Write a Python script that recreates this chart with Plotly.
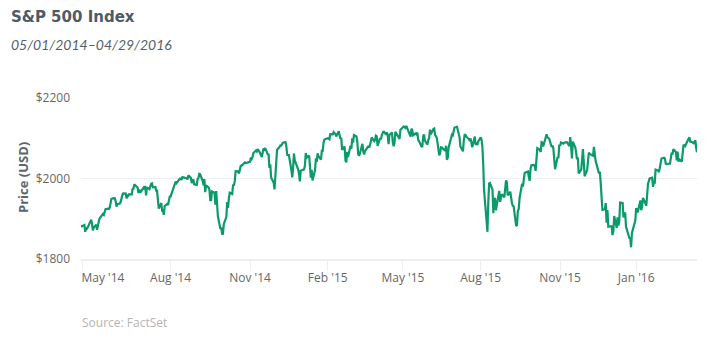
import plotly.graph_objects as go

# ---- data ----
dates_2014 = [
 "2014-05-01","2014-05-02","2014-05-05","2014-05-06","2014-05-07","2014-05-08","2014-05-09","2014-05-12","2014-05-13","2014-05-14",
 "2014-05-15","2014-05-16","2014-05-19","2014-05-20","2014-05-21","2014-05-22","2014-05-23","2014-05-27","2014-05-28","2014-05-29","2014-05-30",
 "2014-06-02","2014-06-03","2014-06-04","2014-06-05","2014-06-06","2014-06-09","2014-06-10","2014-06-11","2014-06-12","2014-06-13",
 "2014-06-16","2014-06-17","2014-06-18","2014-06-19","2014-06-20","2014-06-23","2014-06-24","2014-06-25","2014-06-26","2014-06-27","2014-06-30",
 "2014-07-01","2014-07-02","2014-07-03","2014-07-07","2014-07-08","2014-07-09","2014-07-10","2014-07-11","2014-07-14","2014-07-15",
 "2014-07-16","2014-07-17","2014-07-18","2014-07-21","2014-07-22","2014-07-23","2014-07-24","2014-07-25","2014-07-28","2014-07-29","2014-07-30","2014-07-31",
 "2014-08-01","2014-08-04","2014-08-05","2014-08-06","2014-08-07","2014-08-08","2014-08-11","2014-08-12","2014-08-13","2014-08-14","2014-08-15",
 "2014-08-18","2014-08-19","2014-08-20","2014-08-21","2014-08-22","2014-08-25","2014-08-26","2014-08-27","2014-08-28","2014-08-29",
 "2014-09-02","2014-09-03","2014-09-04","2014-09-05","2014-09-08","2014-09-09","2014-09-10","2014-09-11","2014-09-12","2014-09-15",
 "2014-09-16","2014-09-17","2014-09-18","2014-09-19","2014-09-22","2014-09-23","2014-09-24","2014-09-25","2014-09-26","2014-09-29","2014-09-30",
 "2014-10-01","2014-10-02","2014-10-03","2014-10-06","2014-10-07","2014-10-08","2014-10-09","2014-10-10","2014-10-13","2014-10-14","2014-10-15",
 "2014-10-16","2014-10-17","2014-10-20","2014-10-21","2014-10-22","2014-10-23","2014-10-24","2014-10-27","2014-10-28","2014-10-29","2014-10-30","2014-10-31",
 "2014-11-03","2014-11-04","2014-11-05","2014-11-06","2014-11-07","2014-11-10","2014-11-11","2014-11-12","2014-11-13","2014-11-14","2014-11-17",
 "2014-11-18","2014-11-19","2014-11-20","2014-11-21","2014-11-24","2014-11-25","2014-11-26","2014-11-28",
 "2014-12-01","2014-12-02","2014-12-03","2014-12-04","2014-12-05","2014-12-08","2014-12-09","2014-12-10","2014-12-11","2014-12-12","2014-12-15",
 "2014-12-16","2014-12-17","2014-12-18","2014-12-19","2014-12-22","2014-12-23","2014-12-24","2014-12-26","2014-12-29","2014-12-30","2014-12-31",
]
values_2014 = [
 1883.7,1881.1,1884.7,1867.7,1878.2,1875.6,1878.5,1896.7,1897.5,1888.5,
 1870.9,1877.9,1885.1,1872.8,1888.0,1892.5,1900.5,1911.9,1909.8,1920.0,1923.6,
 1925.0,1924.2,1927.9,1940.5,1949.4,1951.3,1950.8,1943.9,1930.1,1936.2,
 1937.8,1942.0,1957.0,1959.5,1962.9,1962.6,1950.0,1959.5,1957.2,1961.0,1960.2,
 1973.3,1974.6,1985.4,1977.7,1963.7,1972.8,1964.7,1967.6,1977.1,1973.3,
 1981.6,1958.1,1978.2,1973.6,1983.5,1987.0,1988.0,1978.3,1978.9,1970.0,1970.1,1930.7,
 1925.2,1939.0,1920.2,1920.2,1909.6,1931.6,1936.9,1933.8,1946.7,1955.2,1955.1,
 1971.7,1981.6,1986.5,1992.4,1988.4,1997.9,2000.0,2000.1,1996.7,2003.4,
 2002.3,2000.7,1997.7,2007.7,2001.5,1988.4,1995.7,1997.5,1985.5,1984.1,
 1999.0,2001.6,2011.4,2010.4,1994.3,1982.8,1998.3,1966.0,1982.9,1977.8,1972.3,
 1946.2,1946.2,1967.9,1964.8,1935.1,1968.9,1928.2,1906.1,1874.7,1877.7,1862.5,
 1862.8,1886.8,1904.0,1941.3,1927.1,1950.8,1964.6,1961.6,1985.1,1982.3,1994.7,2018.1,
 2017.8,2012.1,2023.6,2031.2,2031.9,2038.3,2039.7,2038.3,2039.3,2039.8,2041.3,
 2051.8,2048.7,2052.8,2063.5,2069.4,2067.0,2072.8,2067.6,
 2053.4,2066.6,2074.3,2071.9,2075.4,2060.3,2059.8,2026.1,2035.3,2002.3,1989.6,
 1972.7,2012.9,2061.2,2070.7,2078.5,2082.2,2081.9,2088.8,2090.6,2080.4,2058.9,
]
dates_2015 = [
 "2015-01-02","2015-01-05","2015-01-06","2015-01-07","2015-01-08","2015-01-09","2015-01-12","2015-01-13","2015-01-14","2015-01-15",
 "2015-01-16","2015-01-20","2015-01-21","2015-01-22","2015-01-23","2015-01-26","2015-01-27","2015-01-28","2015-01-29","2015-01-30",
 "2015-02-02","2015-02-03","2015-02-04","2015-02-05","2015-02-06","2015-02-09","2015-02-10","2015-02-11","2015-02-12","2015-02-13",
 "2015-02-17","2015-02-18","2015-02-19","2015-02-20","2015-02-23","2015-02-24","2015-02-25","2015-02-26","2015-02-27",
 "2015-03-02","2015-03-03","2015-03-04","2015-03-05","2015-03-06","2015-03-09","2015-03-10","2015-03-11","2015-03-12","2015-03-13",
 "2015-03-16","2015-03-17","2015-03-18","2015-03-19","2015-03-20","2015-03-23","2015-03-24","2015-03-25","2015-03-26","2015-03-27","2015-03-30","2015-03-31",
 "2015-04-01","2015-04-02","2015-04-06","2015-04-07","2015-04-08","2015-04-09","2015-04-10","2015-04-13","2015-04-14","2015-04-15",
 "2015-04-16","2015-04-17","2015-04-20","2015-04-21","2015-04-22","2015-04-23","2015-04-24","2015-04-27","2015-04-28","2015-04-29","2015-04-30",
 "2015-05-01","2015-05-04","2015-05-05","2015-05-06","2015-05-07","2015-05-08","2015-05-11","2015-05-12","2015-05-13","2015-05-14",
 "2015-05-15","2015-05-18","2015-05-19","2015-05-20","2015-05-21","2015-05-22","2015-05-26","2015-05-27","2015-05-28","2015-05-29",
 "2015-06-01","2015-06-02","2015-06-03","2015-06-04","2015-06-05","2015-06-08","2015-06-09","2015-06-10","2015-06-11","2015-06-12",
 "2015-06-15","2015-06-16","2015-06-17","2015-06-18","2015-06-19","2015-06-22","2015-06-23","2015-06-24","2015-06-25","2015-06-26","2015-06-29","2015-06-30",
 "2015-07-01","2015-07-02","2015-07-06","2015-07-07","2015-07-08","2015-07-09","2015-07-10","2015-07-13","2015-07-14","2015-07-15",
 "2015-07-16","2015-07-17","2015-07-20","2015-07-21","2015-07-22","2015-07-23","2015-07-24","2015-07-27","2015-07-28","2015-07-29","2015-07-30","2015-07-31",
 "2015-08-03","2015-08-04","2015-08-05","2015-08-06","2015-08-07","2015-08-10","2015-08-11","2015-08-12","2015-08-13","2015-08-14",
 "2015-08-17","2015-08-18","2015-08-19","2015-08-20","2015-08-21","2015-08-24","2015-08-25","2015-08-26","2015-08-27","2015-08-28","2015-08-31",
 "2015-09-01","2015-09-02","2015-09-03","2015-09-04","2015-09-08","2015-09-09","2015-09-10","2015-09-11","2015-09-14","2015-09-15",
 "2015-09-16","2015-09-17","2015-09-18","2015-09-21","2015-09-22","2015-09-23","2015-09-24","2015-09-25","2015-09-28","2015-09-29","2015-09-30",
 "2015-10-01","2015-10-02","2015-10-05","2015-10-06","2015-10-07","2015-10-08","2015-10-09","2015-10-12","2015-10-13","2015-10-14",
 "2015-10-15","2015-10-16","2015-10-19","2015-10-20","2015-10-21","2015-10-22","2015-10-23","2015-10-26","2015-10-27","2015-10-28","2015-10-29","2015-10-30",
 "2015-11-02","2015-11-03","2015-11-04","2015-11-05","2015-11-06","2015-11-09","2015-11-10","2015-11-11","2015-11-12","2015-11-13",
 "2015-11-16","2015-11-17","2015-11-18","2015-11-19","2015-11-20","2015-11-23","2015-11-24","2015-11-25","2015-11-27","2015-11-30",
 "2015-12-01","2015-12-02","2015-12-03","2015-12-04","2015-12-07","2015-12-08","2015-12-09","2015-12-10","2015-12-11","2015-12-14",
 "2015-12-15","2015-12-16","2015-12-17","2015-12-18","2015-12-21","2015-12-22","2015-12-23","2015-12-24","2015-12-28","2015-12-29","2015-12-30","2015-12-31",
]
values_2015 = [
 2058.2,2020.6,2002.6,2025.9,2062.1,2044.8,2028.3,2023.0,2011.3,1992.7,
 2019.4,2022.6,2032.1,2063.2,2051.8,2057.1,2029.6,2002.2,2021.3,1995.0,
 2020.9,2050.0,2041.5,2062.5,2055.5,2046.7,2068.6,2068.5,2088.5,2097.0,
 2100.3,2099.7,2097.5,2110.3,2109.7,2115.5,2113.9,2110.7,2104.5,
 2117.4,2107.8,2098.5,2101.0,2071.3,2079.4,2044.2,2040.2,2066.0,2053.4,
 2081.2,2074.3,2099.5,2089.3,2108.1,2104.4,2091.5,2061.1,2056.2,2061.0,2086.2,2067.9,
 2059.7,2067.0,2080.6,2076.3,2081.9,2091.2,2102.1,2092.4,2095.8,2106.6,
 2105.0,2081.2,2100.4,2097.3,2108.0,2112.9,2117.7,2108.9,2114.8,2106.9,2085.5,
 2108.3,2114.5,2089.5,2080.2,2088.0,2116.1,2105.3,2099.1,2098.5,2121.1,
 2122.7,2129.2,2127.8,2125.9,2130.8,2126.1,2104.2,2123.5,2120.8,2107.4,
 2111.7,2109.6,2114.1,2095.8,2092.8,2079.3,2080.2,2105.2,2108.9,2094.1,
 2084.4,2096.3,2100.4,2121.2,2110.0,2122.9,2124.2,2108.6,2102.3,2101.5,2057.6,2063.1,
 2077.4,2076.8,2068.8,2081.3,2046.7,2051.3,2076.6,2099.6,2109.0,2107.4,
 2124.3,2126.6,2128.3,2119.2,2114.2,2102.2,2079.7,2067.6,2093.3,2108.6,2108.6,2103.8,
 2098.0,2093.3,2099.8,2083.6,2077.6,2104.2,2084.1,2086.1,2083.4,2091.5,
 2102.4,2096.9,2079.6,2035.7,1970.9,1893.2,1867.6,1940.5,1987.7,1988.9,1972.2,
 1913.9,1948.9,1951.1,1921.2,1969.4,1942.0,1952.3,1961.1,1953.0,1978.1,
 1995.3,1990.2,1958.0,1967.0,1942.7,1938.8,1932.2,1931.3,1881.8,1884.1,1920.0,
 1923.8,1951.4,1987.1,1979.9,1995.8,2013.4,2014.9,2017.5,2003.7,1994.2,
 2023.9,2033.1,2033.7,2030.8,2018.9,2052.5,2075.2,2071.2,2065.9,2090.4,2089.4,2079.4,
 2104.1,2109.8,2102.3,2099.9,2099.2,2078.6,2081.7,2075.0,2046.0,2023.0,
 2053.2,2050.4,2083.6,2081.2,2089.2,2086.6,2089.1,2088.9,2090.1,2080.4,
 2102.6,2079.5,2049.6,2091.7,2077.1,2063.6,2047.6,2052.2,2012.4,2021.9,
 2043.4,2073.1,2041.9,2005.6,2021.2,2039.0,2064.3,2061.0,2056.5,2078.4,2063.4,2043.9,
]
dates_2016 = [
 "2016-01-04","2016-01-05","2016-01-06","2016-01-07","2016-01-08","2016-01-11","2016-01-12","2016-01-13","2016-01-14","2016-01-15",
 "2016-01-19","2016-01-20","2016-01-21","2016-01-22","2016-01-25","2016-01-26","2016-01-27","2016-01-28","2016-01-29",
 "2016-02-01","2016-02-02","2016-02-03","2016-02-04","2016-02-05","2016-02-08","2016-02-09","2016-02-10","2016-02-11","2016-02-12",
 "2016-02-16","2016-02-17","2016-02-18","2016-02-19","2016-02-22","2016-02-23","2016-02-24","2016-02-25","2016-02-26","2016-02-29",
 "2016-03-01","2016-03-02","2016-03-03","2016-03-04","2016-03-07","2016-03-08","2016-03-09","2016-03-10","2016-03-11","2016-03-14",
 "2016-03-15","2016-03-16","2016-03-17","2016-03-18","2016-03-21","2016-03-22","2016-03-23","2016-03-24","2016-03-28","2016-03-29","2016-03-30","2016-03-31",
 "2016-04-01","2016-04-04","2016-04-05","2016-04-06","2016-04-07","2016-04-08","2016-04-11","2016-04-12","2016-04-13","2016-04-14",
 "2016-04-15","2016-04-18","2016-04-19","2016-04-20","2016-04-21","2016-04-22","2016-04-25","2016-04-26","2016-04-27","2016-04-28","2016-04-29",
]
values_2016 = [
 2012.7,2016.7,1990.3,1943.1,1922.0,1923.7,1938.7,1890.3,1921.8,1880.3,
 1881.3,1859.3,1869.0,1906.9,1877.1,1903.6,1883.0,1893.4,1940.2,
 1939.4,1903.0,1912.5,1915.5,1880.1,1853.4,1852.2,1851.9,1829.1,1864.8,
 1895.6,1926.8,1917.8,1917.8,1945.5,1921.3,1929.8,1951.7,1948.1,1932.2,
 1978.4,1986.5,1993.4,2000.0,2001.8,1979.3,1989.3,1989.6,2022.2,2019.6,
 2015.9,2027.2,2040.6,2049.6,2051.6,2049.8,2036.7,2035.9,2037.1,2055.0,2064.0,2059.7,
 2072.8,2066.1,2045.2,2066.7,2041.9,2047.6,2042.0,2061.7,2082.4,2082.8,
 2080.7,2094.3,2100.8,2102.4,2091.5,2091.6,2087.8,2091.7,2095.2,2075.8,2065.3,
]

dates = dates_2014 + dates_2015 + dates_2016
prices = values_2014 + values_2015 + values_2016

x_tick_dates = ["2014-05-03", "2014-08-15", "2014-11-17", "2015-02-17",
                "2015-05-17", "2015-08-17", "2015-11-19", "2016-02-17"]
x_tick_labels = ["May '14", "Aug '14", "Nov '14", "Feb '15",
                 "May '15", "Aug '15", "Nov '15", "Jan '16"]
y_tick_values = [1800, 2000, 2200]
y_tick_labels = ["$1800", "$2000", "$2200"]

title_text = "S&P 500 Index"
subtitle_text = "05/01/2014–04/29/2016"
y_title = "Price (USD)"
source_text = "Source: FactSet"

# ---- figure ----
W, H = 708, 339
ML, MR, MT, MB = 81, 11, 98, 80
PW, PH = W - ML - MR, H - MT - MB

def px_x(p):
    return (p - ML) / PW

def px_y(p):
    return (H - MB - p) / PH

# first label justified inside the plot (as the original renders it)
shown_labels = ["\u00a0" * 13 + x_tick_labels[0]] + x_tick_labels[1:]

fig = go.Figure()
fig.add_trace(go.Scatter(
    x=dates, y=prices, mode="lines",
    line=dict(color="#0c9a6a", width=2.2),
    hoverinfo="x+y", showlegend=False,
))

fig.update_layout(
    width=W, height=H,
    margin=dict(l=ML, r=MR, t=MT, b=MB),
    paper_bgcolor="white", plot_bgcolor="white",
    font=dict(family="Open Sans", size=12, color="#666666"),
    xaxis=dict(
        type="date", range=["2014-05-01", "2016-04-29"],
        tickvals=x_tick_dates, ticktext=shown_labels,
        ticks="outside", ticklen=10, tickcolor="#eeeeee", tickwidth=1,
        showgrid=False, zeroline=False,
        showline=True, linecolor="#eeeeee", linewidth=1.5,
        tickfont=dict(family="Open Sans", size=12, color="#666666"),
        ticklabelstandoff=-3,
        fixedrange=True,
    ),
    yaxis=dict(
        range=[1800, 2200],
        tickvals=y_tick_values, ticktext=y_tick_labels,
        ticks="", showgrid=True, gridcolor="#eeeeee", gridwidth=1,
        zeroline=False, showline=False,
        tickfont=dict(family="Open Sans", size=12, color="#666666"),
        ticklabelstandoff=10,
        fixedrange=True,
    ),
    annotations=[
        dict(text="<b>" + title_text.replace("&", "&amp;") + "</b>",
             xref="paper", yref="paper", x=px_x(9), y=px_y(17),
             xanchor="left", yanchor="middle", showarrow=False,
             font=dict(family="DejaVu Sans", size=15, color="#4f5a65")),
        dict(text="<i>" + subtitle_text + "</i>",
             xref="paper", yref="paper", x=px_x(9), y=px_y(45),
             xanchor="left", yanchor="middle", showarrow=False,
             font=dict(family="Lato", size=14, color="#555f69")),
        dict(text="<b>" + y_title + "</b>", textangle=-90,
             xref="paper", yref="paper", x=px_x(23), y=px_y(178),
             xanchor="center", yanchor="middle", showarrow=False,
             font=dict(family="Open Sans", size=13, color="#5a6570")),
        dict(text=source_text,
             xref="paper", yref="paper", x=px_x(80), y=px_y(322),
             xanchor="left", yanchor="middle", showarrow=False,
             font=dict(family="Open Sans", size=12, color="#b5b5b5")),
    ],
)

fig.write_html("out.html")
